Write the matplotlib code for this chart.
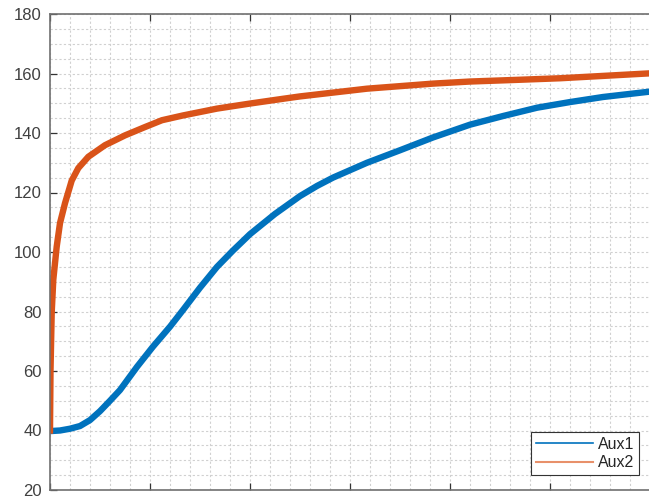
import matplotlib
matplotlib.use("Agg")
import matplotlib.pyplot as plt
from matplotlib.ticker import MultipleLocator, NullFormatter
from matplotlib.lines import Line2D

plt.rcParams['font.family'] = ['Liberation Sans', 'DejaVu Sans']

# Aux1 (blue)
aux1_x = [0.00, 0.10, 0.20, 0.30, 0.40, 0.50, 0.60, 0.70, 0.87, 1.03, 1.20, 1.33,
          1.50, 1.67, 1.83, 2.00, 2.25, 2.50, 2.67, 2.83, 3.17, 3.50, 3.83, 4.20,
          4.53, 4.87, 5.20, 5.53, 5.97]
aux1_y = [39.8, 40.0, 40.6, 41.5, 43.5, 46.5, 50.0, 53.6, 61.4, 68.2, 74.9, 80.5,
          88.0, 95.0, 100.5, 106.0, 112.8, 118.8, 122.2, 125.0, 130.0, 134.2, 138.5,
          142.8, 145.7, 148.5, 150.4, 152.1, 153.8]

# Aux2 (orange)
aux2_x = [0.00, 0.005, 0.017, 0.033, 0.067, 0.10, 0.15, 0.217, 0.283, 0.383, 0.55,
          0.75, 0.95, 1.12, 1.33, 1.67, 2.00, 2.33, 2.50, 3.17, 3.83, 4.20, 4.70,
          5.10, 5.97]
aux2_y = [40.0, 60.0, 79.6, 90.7, 101.8, 109.7, 116.4, 124.0, 128.2, 132.0, 135.9,
          139.2, 142.0, 144.3, 145.9, 148.2, 149.9, 151.5, 152.3, 154.9, 156.6, 157.3,
          157.9, 158.4, 160.0]

labels = ["Aux1", "Aux2"]
y_ticks = [20, 40, 60, 80, 100, 120, 140, 160, 180]
c_blue = "#0072BD"
c_orange = "#D95319"

W, H = 649, 504
fig = plt.figure(figsize=(W / 100, H / 100), dpi=100)
ax_w, ax_h = 620, 476
ax = fig.add_axes([50 / W, (H - 490) / H, ax_w / W, ax_h / H])

ax.plot(aux1_x, aux1_y, color=c_blue, lw=4.6, solid_joinstyle='round')
ax.plot(aux2_x, aux2_y, color=c_orange, lw=4.6, solid_joinstyle='round')

ax.set_xlim(0, 6.2)
ax.set_ylim(20, 180)
ax.set_yticks(y_ticks)
ax.xaxis.set_major_locator(MultipleLocator(1))
ax.xaxis.set_minor_locator(MultipleLocator(0.2))
ax.yaxis.set_minor_locator(MultipleLocator(5))
ax.xaxis.set_major_formatter(NullFormatter())

gcol = "#d0d0d0"
ax.grid(True, which='major', color=gcol, lw=0.8, linestyle=(0, (2, 2)))
ax.grid(True, which='minor', color=gcol, lw=0.8, linestyle=(0, (2, 2)))
ax.set_axisbelow(True)

spine_col = "#707070"
for s in ax.spines.values():
    s.set_color(spine_col)
    s.set_linewidth(1.2)
ax.tick_params(which='major', direction='in', length=5, width=0.9, color="#333333",
               labelsize=12, labelcolor="#404040", pad=6, top=True, right=True)
ax.tick_params(which='minor', length=0)

handles = [Line2D([], [], color=c_blue, lw=1.2), Line2D([], [], color="#E8906A", lw=1.5)]
leg = ax.legend(handles, labels, loc='lower right',
                bbox_to_anchor=((639 - 50) / ax_w, 15 / ax_h),
                bbox_transform=ax.transAxes, fontsize=11.5, frameon=True, fancybox=False,
                framealpha=1, edgecolor="#333333", handlelength=3.6, handletextpad=0.3,
                borderpad=0.3, labelspacing=0.2, borderaxespad=0)
leg.get_frame().set_linewidth(0.8)
for t in leg.get_texts():
    t.set_color("#262626")

fig.savefig("out.png", dpi=100)
